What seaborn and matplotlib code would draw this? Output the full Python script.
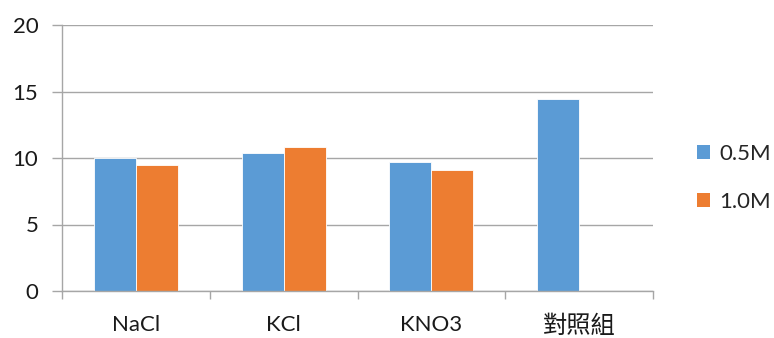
import numpy as np
import pandas as pd
import matplotlib
matplotlib.use("Agg")
import matplotlib.pyplot as plt
from matplotlib.ticker import FixedLocator
from matplotlib.patches import Patch
import seaborn as sns

# Data
categories = ["NaCl", "KCl", "KNO3", "對照組"]
series_names = ["0.5M", "1.0M"]
values_05 = [10.0, 10.4, 9.7, 14.4]
values_10 = [9.5, 10.8, 9.1, np.nan]
y_ticks = [0, 5, 10, 15, 20]

colors = ["#5B9BD5", "#ED7D31"]
grid_color = "#A6A6A6"
text_color = "#1A1A1A"
font_size = 16

df = pd.DataFrame({
    "category": categories * 2,
    "series": [series_names[0]] * 4 + [series_names[1]] * 4,
    "value": values_05 + values_10,
})

sns.set_theme(style="white")
plt.rcParams["font.family"] = ["Lato", "Noto Sans CJK TC", "DejaVu Sans"]

fig = plt.figure(figsize=(7.74, 3.38), dpi=100)
ax = fig.add_axes([62 / 774, 1 - 291 / 338, (653 - 62) / 774, (291 - 25) / 338])

sns.barplot(data=df, x="category", y="value", hue="series", order=categories,
            hue_order=series_names, palette=colors, width=0.57, ax=ax,
            errorbar=None, legend=False, saturation=1,
            edgecolor="white", linewidth=0.6)

ax.set_xlim(-0.5, 3.5)
ax.set_ylim(0, 20)
ax.set_yticks(y_ticks)
ax.set_yticklabels([str(t) for t in y_ticks], fontsize=font_size, color=text_color)
ax.set_xlabel("")
ax.set_ylabel("")

# Category labels at centres, tick marks at category boundaries
ax.set_xticks(range(len(categories)))
ax.set_xticklabels(categories, fontsize=font_size, color=text_color)
for lbl in ax.get_xticklabels():
    if not lbl.get_text().isascii():
        lbl.set_fontsize(17.5)
ax.tick_params(axis="x", which="major", length=0, pad=17)
ax.xaxis.set_minor_locator(FixedLocator(np.arange(-0.5, 4.0, 1.0)))
ax.tick_params(axis="x", which="minor", length=6, width=1, color=grid_color, bottom=True)
ax.tick_params(axis="y", which="major", length=7, width=1, color=grid_color, left=True, pad=10)

ax.grid(axis="y", color=grid_color, linewidth=1)
ax.set_axisbelow(True)
for side in ["top", "right"]:
    ax.spines[side].set_visible(False)
for side in ["left", "bottom"]:
    ax.spines[side].set_color(grid_color)
    ax.spines[side].set_linewidth(1)

handles = [Patch(facecolor=c, edgecolor="none") for c in colors]
fig.legend(handles, series_names, loc="center left", bbox_to_anchor=(688 / 774, 1 - 178 / 338),
           frameon=False, fontsize=font_size, handlelength=0.6, handleheight=0.6,
           handletextpad=0.4, labelspacing=1.25, borderaxespad=0)

fig.savefig("out.png", dpi=100)
